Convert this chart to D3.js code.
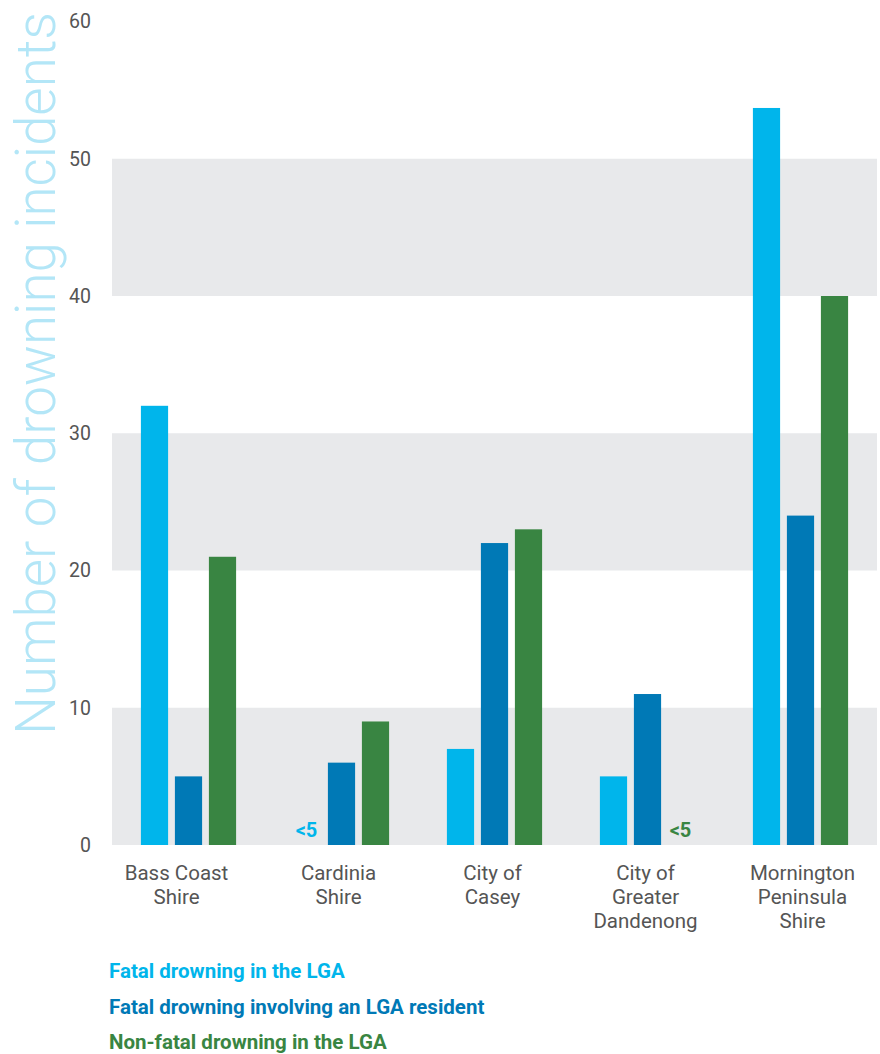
<!DOCTYPE html>
<html>
<head>
<meta charset="utf-8">
<script src="https://cdn.jsdelivr.net/npm/d3@7"></script>
<style>
  body { margin: 0; background: #fff; }
  text { font-family: Roboto, "Noto Sans", sans-serif; }
</style>
</head>
<body>
<div id="chart"></div>
<script>
// data
var councils = [
  ["Bass Coast", "Shire"],
  ["Cardinia", "Shire"],
  ["City of", "Casey"],
  ["City of", "Greater", "Dandenong"],
  ["Mornington", "Peninsula", "Shire"]
];
var seriesNames = [
  "Fatal drowning in the LGA",
  "Fatal drowning involving an LGA resident",
  "Non-fatal drowning in the LGA"
];
var fatalInLga = [32, null, 7, 5, 53.7];
var fatalResident = [5, 6, 22, 11, 24];
var nonFatal = [21, 9, 23, null, 40];
var yTicks = [0, 10, 20, 30, 40, 50, 60];
var colors = ["#00b5eb", "#0079b6", "#398542"];

// the category labels are not quite centred under their groups
var labelNudge = [-12, -3, -2, -2, 2];

var W = 880, H = 1054;
var margin = { top: 21.5, right: 3, bottom: 209, left: 112 };
var width = W - margin.left - margin.right,
  height = H - margin.top - margin.bottom;

var svg = d3.select("#chart").append("svg")
  .attr("width", W).attr("height", H);

var g = svg.append("g")
  .attr("transform", "translate(" + margin.left + "," + margin.top + ")");

var y = d3.scaleLinear().domain([0, 60]).range([height, 0]);
var x = d3.scaleBand().domain(d3.range(councils.length)).range([0, width]);
var inner = d3.scaleBand().domain([0, 1, 2]).range([-51, 51]).paddingInner(0.2).paddingOuter(0.1);

// alternating grey bands
var bands = [[0, 10], [20, 30], [40, 50]];
g.selectAll(".band").data(bands).enter().append("rect")
  .attr("class", "band")
  .attr("x", 0).attr("width", width)
  .attr("y", function (d) { return y(d[1]); })
  .attr("height", function (d) { return y(d[0]) - y(d[1]); })
  .attr("fill", "#e8e9eb");

// y axis
var yAxis = g.append("g")
  .call(d3.axisLeft(y).tickValues(yTicks).tickSize(0).tickPadding(21));
yAxis.select(".domain").remove();
yAxis.selectAll("text")
  .style("font-family", "Roboto, sans-serif")
  .style("font-size", "19.5px")
  .attr("fill", "#555");

// y title
svg.append("text")
  .attr("transform", "translate(55," + 735 + ") rotate(-90)")
  .attr("fill", "#b3e6f7")
  .style("font-size", "54.7px")
  .style("font-weight", 300)
  .text("Number of drowning incidents");

var rows = [];
[fatalInLga, fatalResident, nonFatal].forEach(function (arr, s) {
  arr.forEach(function (v, i) { rows.push({ i: i, s: s, v: v }); });
});

g.selectAll(".bar").data(rows.filter(function (d) { return d.v != null; }))
  .enter().append("rect")
  .attr("class", "bar")
  .attr("x", function (d) { return x(d.i) + x.bandwidth() / 2 + inner(d.s); })
  .attr("width", inner.bandwidth())
  .attr("y", function (d) { return y(d.v); })
  .attr("height", function (d) { return height - y(d.v); })
  .attr("fill", function (d) { return colors[d.s]; });

// "<5" markers for suppressed values
g.selectAll(".small").data(rows.filter(function (d) { return d.v == null; }))
  .enter().append("text")
  .attr("x", function (d) { return x(d.i) + x.bandwidth() / 2 + inner(d.s) + inner.bandwidth() / 2 - 1; })
  .attr("y", height - 8)
  .attr("text-anchor", "middle")
  .attr("fill", function (d) { return colors[d.s]; })
  .style("font-size", "20px")
  .style("font-weight", 700)
  .text("<5");

// category labels
var labels = g.selectAll(".cat").data(councils).enter().append("text")
  .attr("class", "cat")
  .attr("text-anchor", "middle")
  .attr("fill", "#555")
  .style("font-size", "20.5px")
  .attr("transform", function (d, i) { return "translate(" + (x(i) + x.bandwidth() / 2 + labelNudge[i]) + "," + (height + 35) + ")"; });
labels.selectAll("tspan").data(function (d) { return d; }).enter().append("tspan")
  .attr("x", 0)
  .attr("y", function (d, j) { return j * 24; })
  .text(function (d) { return d; });

// legend
svg.selectAll(".legend").data(seriesNames).enter().append("text")
  .attr("x", 109)
  .attr("y", function (d, i) { return 978 + i * 35.5; })
  .attr("fill", function (d, i) { return colors[i]; })
  .style("font-size", "20.5px")
  .style("font-weight", 700)
  .text(function (d) { return d; });
</script>
</body>
</html>
